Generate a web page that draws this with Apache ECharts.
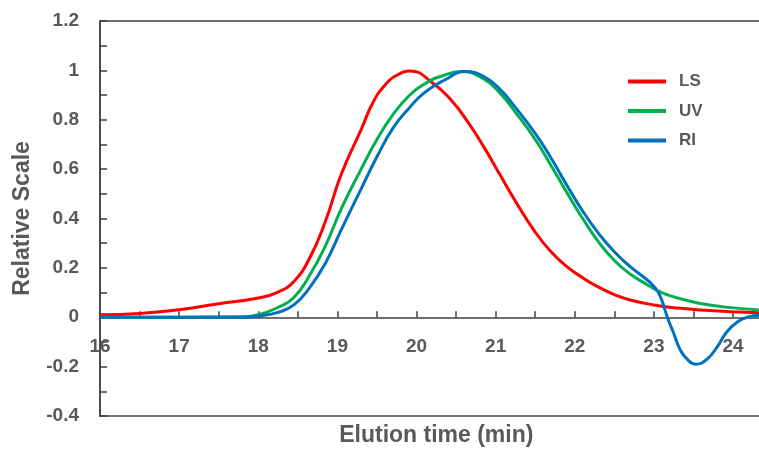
<!DOCTYPE html>
<html>
<head>
<meta charset="utf-8">
<script src="https://cdn.jsdelivr.net/npm/echarts@6/dist/echarts.min.js"></script>
<style>
	html, body { margin: 0; padding: 0; background: #fff; }
	#chart { width: 759px; height: 458px; }
</style>
</head>
<body>
<div id="chart"></div>
<script>
// elution time (min) / relative scale
let lsTime = [16, 16.5, 17, 17.5, 18, 18.25, 18.45, 18.65, 18.85, 19.05, 19.3, 19.45, 19.6, 19.75, 19.92, 20.2, 20.45, 20.65, 20.85, 21.05, 21.25, 21.5, 21.7, 21.9, 22.1, 22.3, 22.5, 22.7, 23.0, 23.3, 23.7, 24.0, 24.4];
let lsValue = [0.01, 0.015, 0.03, 0.055, 0.078, 0.102, 0.145, 0.24, 0.39, 0.58, 0.76, 0.87, 0.94, 0.98, 0.997, 0.95, 0.875, 0.79, 0.69, 0.58, 0.47, 0.345, 0.265, 0.205, 0.16, 0.122, 0.092, 0.07, 0.05, 0.037, 0.027, 0.022, 0.017];

let uvTime = [16, 17, 17.8, 18, 18.25, 18.45, 18.65, 18.85, 19.05, 19.3, 19.5, 19.7, 19.9, 20.1, 20.3, 20.57, 20.85, 21.05, 21.25, 21.5, 21.7, 21.9, 22.1, 22.3, 22.5, 22.7, 22.9, 23.1, 23.3, 23.5, 23.7, 23.9, 24.4];
let uvValue = [0, 0, 0.002, 0.01, 0.04, 0.08, 0.17, 0.29, 0.44, 0.6, 0.72, 0.82, 0.895, 0.945, 0.975, 0.995, 0.965, 0.91, 0.83, 0.72, 0.615, 0.505, 0.4, 0.305, 0.23, 0.175, 0.135, 0.1, 0.078, 0.062, 0.05, 0.041, 0.028];

let riTime = [16, 17, 17.8, 18, 18.25, 18.45, 18.65, 18.85, 19.05, 19.3, 19.5, 19.7, 19.9, 20.1, 20.35, 20.62, 20.85, 21.05, 21.25, 21.5, 21.7, 21.9, 22.1, 22.3, 22.5, 22.7, 22.9, 23.0, 23.08, 23.17, 23.25, 23.33, 23.42, 23.53, 23.67, 23.8, 23.92, 24.05, 24.18, 24.4];
let riValue = [0, 0, 0, 0.005, 0.02, 0.05, 0.12, 0.22, 0.355, 0.52, 0.65, 0.765, 0.845, 0.91, 0.96, 0.995, 0.975, 0.925, 0.85, 0.745, 0.645, 0.535, 0.43, 0.34, 0.265, 0.205, 0.155, 0.125, 0.085, 0.0, -0.065, -0.13, -0.17, -0.19, -0.17, -0.12, -0.06, -0.02, 0.0, 0.01];

let seriesNames = ['LS', 'UV', 'RI'];
let seriesColors = ['#ff0000', '#00b050', '#0070c0'];

function pairs(t, v){
	let out = [];
	for(let i = 0; i < t.length; i++){
		out.push([t[i], v[i]]);
	}
	return out;
}

let allData = [pairs(lsTime, lsValue), pairs(uvTime, uvValue), pairs(riTime, riValue)];

let textGray = '#595959';
let lineGray = '#404040';
let fontName = 'Liberation Sans';

// plot box, y range -0.4..1.2, so zero sits 0.4/1.6 of the height above the bottom
let plotTop = 21;
let plotHeight = 395;
let zeroOffset = -plotHeight * 0.4 / 1.6;

let chart = echarts.init(document.getElementById('chart'));

let series = [];
for(let i = 0; i < seriesNames.length; i++){
	series.push({
		name: seriesNames[i],
		type: 'line',
		data: allData[i],
		smooth: 0.5,
		showSymbol: false,
		symbol: 'none',
		color: seriesColors[i],
		lineStyle: { width: 3, color: seriesColors[i] },
		z: 3
	});
}

let option = {
	animation: false,
	backgroundColor: '#fff',
	grid: {
		left: 100,
		top: plotTop,
		width: 672.6,
		height: plotHeight,
		outerBoundsMode: 'none',
		containLabel: false,
		show: true,
		borderColor: lineGray,
		borderWidth: 1.5
	},
	legend: {
		orient: 'vertical',
		left: 628,
		top: 72,
		padding: 0,
		itemWidth: 38,
		itemHeight: 4,
		itemGap: 10.5,
		icon: 'rect',
		data: seriesNames,
		textStyle: {
			fontFamily: fontName,
			fontWeight: 'bold',
			fontSize: 17,
			color: textGray,
			lineHeight: 19,
			padding: [0, 0, 0, 8]
		}
	},
	xAxis: {
		type: 'value',
		position: 'bottom',
		offset: zeroOffset,
		min: 16,
		max: 24.5,
		interval: 1,
		name: 'Elution time (min)',
		nameLocation: 'middle',
		nameGap: 107,
		nameTextStyle: {
			fontFamily: fontName,
			fontWeight: 'bold',
			fontSize: 23,
			color: textGray
		},
		axisLine: { onZero: false, lineStyle: { color: lineGray, width: 1.5 } },
		axisTick: { show: true, inside: true, length: 6, lineStyle: { color: lineGray, width: 1.5 } },
		minorTick: { show: true, splitNumber: 2, length: 6, lineStyle: { color: lineGray, width: 1.5 } },
		splitLine: { show: false },
		axisLabel: {
			margin: 20,
			showMaxLabel: false,
			fontFamily: fontName,
			fontWeight: 'bold',
			fontSize: 19,
			color: textGray
		}
	},
	yAxis: {
		type: 'value',
		min: -0.4,
		max: 1.2,
		interval: 0.2,
		name: 'Relative Scale',
		nameLocation: 'middle',
		nameGap: 66,
		nameTextStyle: {
			fontFamily: fontName,
			fontWeight: 'bold',
			fontSize: 23,
			color: textGray
		},
		axisLine: { show: true, lineStyle: { color: lineGray, width: 1.5 } },
		axisTick: { show: true, inside: true, length: 7, lineStyle: { color: lineGray, width: 1.5 } },
		minorTick: { show: true, splitNumber: 2, length: 7, lineStyle: { color: lineGray, width: 1.5 } },
		splitLine: { show: false },
		axisLabel: {
			margin: 21,
			fontFamily: fontName,
			fontWeight: 'bold',
			fontSize: 19,
			color: textGray
		}
	},
	series: series
};

chart.setOption(option);
</script>
</body>
</html>
